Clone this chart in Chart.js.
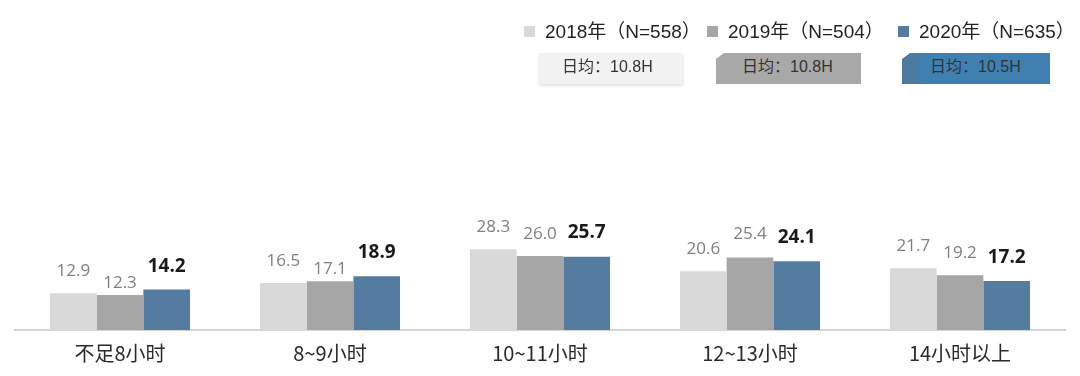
<!DOCTYPE html>
<html lang="zh">
<head>
<meta charset="UTF-8">
<title>每日时长分布</title>
<style>
  body { margin: 0; background: #fff; }
  #wrap { position: relative; width: 1080px; height: 376px; }
  .leg { position: absolute; top: 16px; font: 19px "Liberation Sans", "Noto Sans CJK SC", sans-serif; color: #222; white-space: nowrap; }
  .leg i { display: inline-block; width: 11px; height: 11px; margin-right: 10px; vertical-align: 1px; }
  .badge { position: absolute; top: 53px; height: 31px; line-height: 31px; font: 16px "Liberation Sans", "Noto Sans CJK SC", sans-serif; color: #333; white-space: nowrap; }
</style>
</head>
<body>
<div id="wrap">
  <canvas id="myChart" width="1080" height="376"></canvas>
</div>
<script src="https://cdn.jsdelivr.net/npm/chart.js"></script>
<script>
// 数据
const categories = ['不足8小时', '8~9小时', '10~11小时', '12~13小时', '14小时以上'];
const seriesNames = ['2018年（N=558）', '2019年（N=504）', '2020年（N=635）'];
const values2018 = [12.9, 16.5, 28.3, 20.6, 21.7];
const values2019 = [12.3, 17.1, 26.0, 25.4, 19.2];
const values2020 = [14.2, 18.9, 25.7, 24.1, 17.2];
const dailyAvg = ['日均：10.8H', '日均：10.8H', '日均：10.5H'];

const colors = ['#d9d9d9', '#a6a6a6', '#547ca0'];

// 图例和日均标签（HTML）
const wrap = document.getElementById('wrap');
const legLeft = [524, 707, 898];
const badgeBox = [
  { left: 538, width: 144, bg: '#f2f2f2', shadow: '1px 2px 3px rgba(0,0,0,0.12)', pad: 24, clip: 'none' },
  { left: 716, width: 145, bg: '#a8a8a8', shadow: 'none', pad: 26, clip: 'polygon(8px 0, 100% 0, 100% 100%, 0 100%, 0 6px)' },
  { left: 902, width: 148, bg: 'linear-gradient(to right, #4d7ba0 0, #4d7ba0 16px, #3f80b0 16px)', shadow: 'none', pad: 28, clip: 'polygon(8px 0, 100% 0, 100% 100%, 0 100%, 0 6px)' }
];
seriesNames.forEach((name, i) => {
  const d = document.createElement('div');
  d.className = 'leg';
  d.style.left = legLeft[i] + 'px';
  d.innerHTML = '<i style="background:' + colors[i] + '"></i>' + name;
  wrap.appendChild(d);

  const b = document.createElement('div');
  const s = badgeBox[i];
  b.className = 'badge';
  b.style.left = s.left + 'px';
  b.style.width = (s.width - s.pad) + 'px';
  b.style.paddingLeft = s.pad + 'px';
  b.style.background = s.bg;
  b.style.boxShadow = s.shadow;
  b.style.clipPath = s.clip;
  b.textContent = dailyAvg[i];
  wrap.appendChild(b);
});

// 柱顶数值标签
const valueLabels = {
  id: 'valueLabels',
  afterDatasetsDraw(chart) {
    const ctx = chart.ctx;
    ctx.save();
    ctx.textAlign = 'center';
    ctx.textBaseline = 'middle';
    chart.data.datasets.forEach((ds, i) => {
      const meta = chart.getDatasetMeta(i);
      ctx.font = ds.labelFont;
      ctx.fillStyle = ds.labelColor;
      meta.data.forEach((bar, j) => {
        ctx.fillText(ds.data[j].toFixed(1), bar.x, bar.y - ds.labelLift[j]);
      });
    });
    ctx.restore();
  }
};

const ctx = document.getElementById('myChart').getContext('2d');
new Chart(ctx, {
  type: 'bar',
  data: {
    labels: categories,
    datasets: [
      { label: seriesNames[0], data: values2018, backgroundColor: colors[0],
        labelFont: '17px "Open Sans", sans-serif', labelColor: '#7f7f7f', labelLift: [22, 22, 22, 22, 22] },
      { label: seriesNames[1], data: values2019, backgroundColor: colors[1],
        labelFont: '17px "Open Sans", sans-serif', labelColor: '#7f7f7f', labelLift: [12, 12, 22, 23, 22] },
      { label: seriesNames[2], data: values2020, backgroundColor: colors[2],
        labelFont: 'bold 19px "Open Sans", sans-serif', labelColor: '#1a1a1a', labelLift: [23, 24, 24, 24, 23] }
    ]
  },
  options: {
    responsive: false,
    animation: false,
    layout: { padding: { left: 15, right: 15, top: 216, bottom: 0 } },
    datasets: { bar: { categoryPercentage: 0.667, barPercentage: 1.0 } },
    plugins: { legend: { display: false }, tooltip: { enabled: false } },
    scales: {
      x: {
        grid: { display: false, drawTicks: false },
        border: { display: true, color: '#d6d6d6', width: 2 },
        ticks: { padding: 11, color: '#2a2a2a', font: { size: 20, family: '"Noto Sans CJK SC", sans-serif' } }
      },
      y: { display: false, min: 0, max: 40 }
    }
  },
  plugins: [valueLabels]
});
</script>
</body>
</html>
